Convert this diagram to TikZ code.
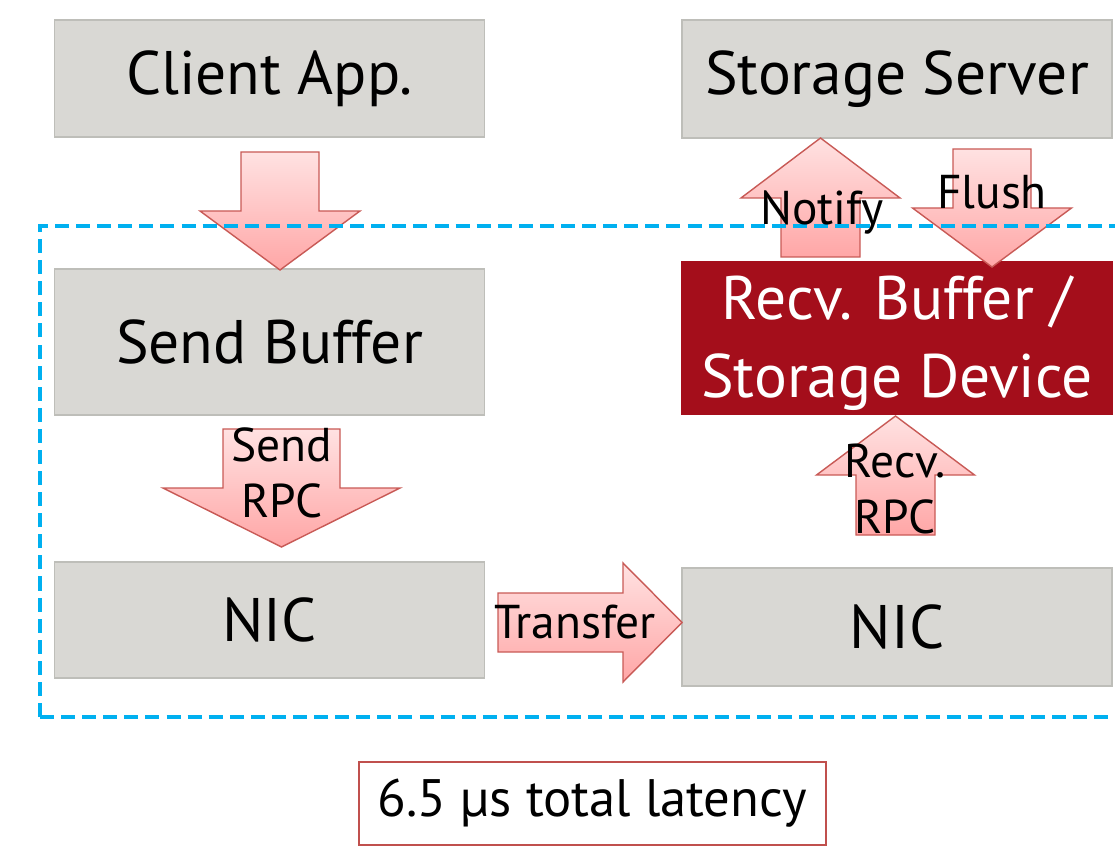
\documentclass[tikz,border=0pt]{standalone}
\usepackage{fontspec}
\setmainfont{PT Sans}
\definecolor{boxgray}{RGB}{217,216,212}
\definecolor{boxline}{RGB}{190,190,185}
\definecolor{devred}{RGB}{164,14,27}
\definecolor{arrline}{RGB}{200,90,86}
\definecolor{arrtop}{RGB}{255,226,226}
\definecolor{arrbot}{RGB}{255,166,166}
\definecolor{zone}{RGB}{0,176,240}
\definecolor{latred}{RGB}{192,80,77}
\tikzset{
  block/.style={draw=boxline, line width=1pt, fill=boxgray, inner sep=0pt,
    minimum width=8.6cm, font=\fontsize{35}{42}\selectfont},
  blockarrow/.style={draw=arrline, line width=0.8pt, top color=arrtop, bottom color=arrbot},
  arrlabel/.style={font=\fontsize{27}{32}\selectfont, align=center, inner sep=0pt}
}
\begin{document}
\begin{tikzpicture}[x=0.02cm, y=-0.02cm]
\useasboundingbox (0,0) rectangle (1115,847);
\newcommand\vertarrow[6]{
\path[blockarrow] (#1-#5,#2) -- (#1+#5,#2) -- (#1+#5,#3) -- (#1+#6,#3) -- (#1,#4)
  -- (#1-#6,#3) -- (#1-#5,#3) -- cycle;
}
\node[block, minimum height=2.34cm] (client) at (269.5,78.5) {Client App.};
\node[block, minimum height=2.36cm] (server) at (897,79) {Storage Server};
\node[block, minimum height=2.92cm] (sendbuf) at (269.5,342) {Send Buffer};
\node[block, draw=devred, fill=devred, minimum height=3.04cm] (recvbuf) at (897,338) {};
\node[text=white, align=center, inner sep=0pt, font=\fontsize{35}{44}\selectfont]
  (recvtext) at (897,343) {Recv. Buffer /\\Storage Device};
\node[block, minimum height=2.32cm] (nicl) at (269.5,620) {NIC};
\node[block, minimum height=2.36cm] (nicr) at (897,627) {NIC};
\node[draw=latred, line width=1.6pt, minimum width=9.34cm, minimum height=1.66cm,
  font=\fontsize{30}{36}\selectfont] (latency) at (592.5,803.5) {6.5 µs total latency};
\vertarrow{280}{152}{211}{270}{39}{80}
\vertarrow{281.5}{429}{488}{547}{58.5}{118.5}
\vertarrow{895.5}{535}{475}{416}{39.5}{79}
\vertarrow{820.5}{257}{198}{138}{39.5}{79.5}
\vertarrow{992}{149}{208}{267}{39}{79.5}
\path[blockarrow] (498,593) -- (623,593) -- (623,563) -- (682,622.5) -- (623,682)
  -- (623,652) -- (498,652) -- cycle;
\path[draw=zone, line width=2.2pt, dash pattern=on 8pt off 4pt]
  (40,717) -- (40,226) -- (1130,226) (40,717) -- (1130,717);
\node[arrlabel] (notify) at (822,213) {Notify};
\node[arrlabel] (flush) at (992,192) {Flush};
\node[arrlabel] (sendrpc) at (282,473) {Send\\RPC};
\node[arrlabel] (transfer) at (575,622) {Transfer};
\node[arrlabel] (recvrpc) at (895,489) {Recv.\\RPC};
\end{tikzpicture}
\end{document}
